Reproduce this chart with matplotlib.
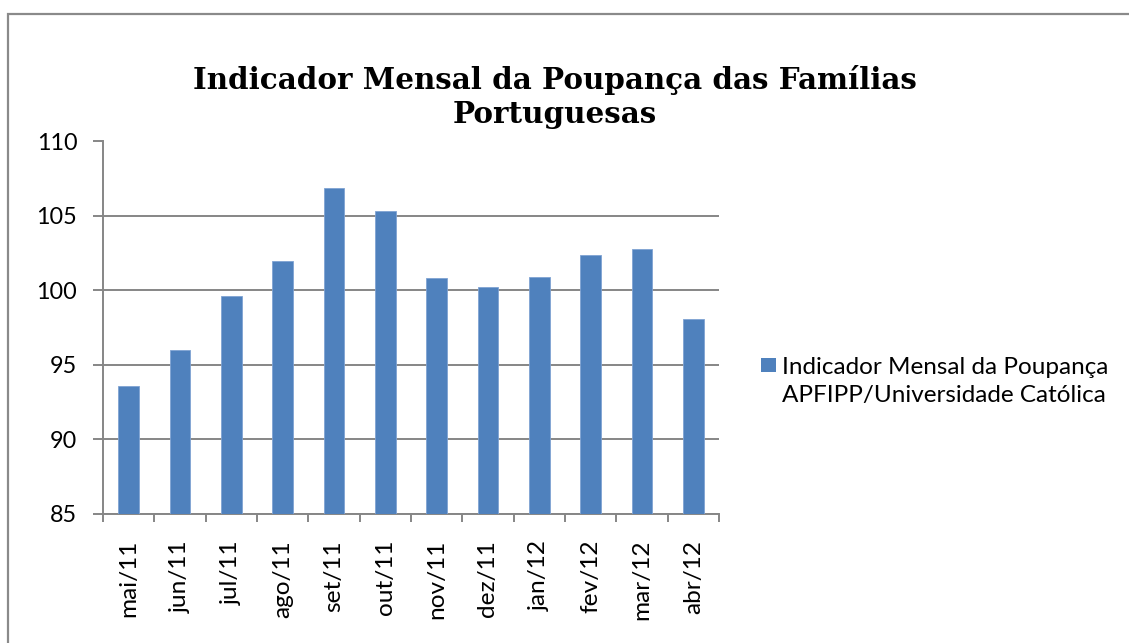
import matplotlib.pyplot as plt
import numpy as np
from matplotlib.patches import Rectangle

# monthly values
months = ["mai/11", "jun/11", "jul/11", "ago/11", "set/11", "out/11",
          "nov/11", "dez/11", "jan/12", "fev/12", "mar/12", "abr/12"]
values = [93.6, 96.0, 99.6, 102.0, 106.9, 105.3,
          100.8, 100.2, 100.9, 102.4, 102.8, 98.1]
yticks = [85, 90, 95, 100, 105, 110]

title = "Indicador Mensal da Poupança das Famílias\nPortuguesas"
series_name = "Indicador Mensal da Poupança\nAPFIPP/Universidade Católica"

W, H = 1129, 643
fig = plt.figure(figsize=(W / 100, H / 100), dpi=100)
grid_col = "#868686"
bar_col = "#4F81BD"
font = "Lato"

# outer chart border (only left and top are inside the picture)
fig.patches.append(Rectangle((7.5 / W, -0.1), 1.2, 1.1 - 14.5 / H,
                             transform=fig.transFigure, fill=False,
                             edgecolor="#8a8a8a", linewidth=1.6))

ax = fig.add_axes([103 / W, 1 - 513.5 / H, (719 - 103) / W, (513.5 - 141.5) / H])
x = np.arange(len(months))
ax.bar(x, np.array(values) - 85, bottom=85, width=0.4, color=bar_col,
       edgecolor="#7fa3d3", linewidth=0.6, zorder=3)

ax.set_xlim(-0.5, len(months) - 0.5)
ax.set_ylim(85, 110)
ax.set_yticks(yticks)
ax.set_yticklabels([str(v) for v in yticks], fontsize=16.8, family=font)
ax.yaxis.grid(True, color=grid_col, linewidth=1.4, zorder=0)

ax.set_xticks(x)
ax.set_xticklabels(months, rotation=90, fontsize=17.6, family=font)
ax.set_xticks(np.arange(len(months) + 1) - 0.5, minor=True)
ax.tick_params(axis="x", which="major", length=0, pad=19)
ax.tick_params(axis="x", which="minor", length=5.5, color=grid_col, width=1.4)
ax.tick_params(axis="y", length=7, color=grid_col, width=1.4, pad=11.5)

for side in ["top", "right"]:
    ax.spines[side].set_visible(False)
for side in ["left", "bottom"]:
    ax.spines[side].set_color(grid_col)
    ax.spines[side].set_linewidth(1.4)

fig.text(555 / W, 1 - 97 / H, title, ha="center", va="center", fontsize=21.2,
         fontweight="bold", family="DejaVu Serif", linespacing=1.25)

# legend: square key next to the first line of the series name
fig.patches.append(Rectangle((761 / W, 1 - 372 / H), 15 / W, 14 / H,
                             transform=fig.transFigure, facecolor=bar_col,
                             edgecolor="none"))
fig.text(782 / W, 1 - 381.5 / H, series_name, ha="left", va="center",
         fontsize=17.5, family=font, linespacing=1.36)

fig.savefig("out.png", dpi=100)
